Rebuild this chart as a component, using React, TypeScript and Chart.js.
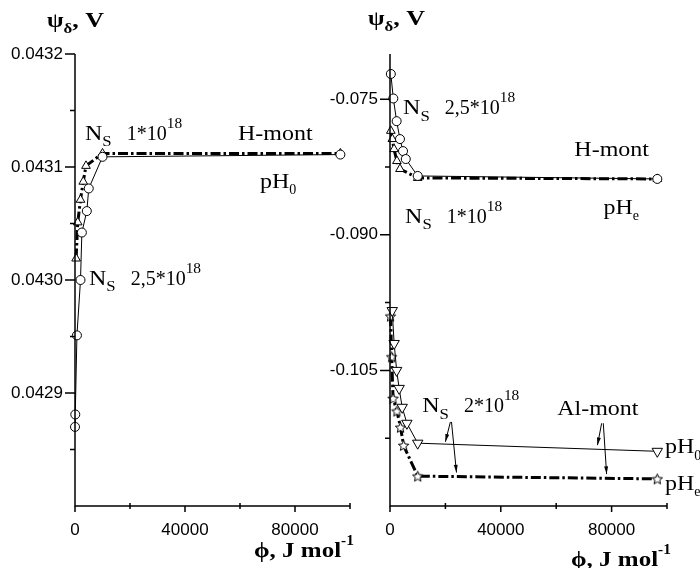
import React, { useEffect, useRef } from 'react';
import { Chart, registerables } from 'chart.js';
Chart.register(...registerables);

const SANS = "'Liberation Sans', Arial, sans-serif";
const SERIF = "'Liberation Serif', 'Times New Roman', serif";

// ---------- Left panel: H-mont, pH0 ----------
const leftCircX = [0, 100, 700, 2000, 2500, 4300, 5000, 10000, 96500];
const leftCircY = [0.04287, 0.042881, 0.042951, 0.043, 0.043042, 0.043061, 0.043081, 0.043109, 0.043111];
const leftTriX = [400, 1000, 2000, 3000, 4000, 10000, 96500];
const leftTriY = [0.043019, 0.043051, 0.043071, 0.043087, 0.043101, 0.043112, 0.043112];

// ---------- Right panel, top: H-mont, pHe ----------
const rCircX = [300, 1200, 2400, 3600, 4700, 5700, 10000, 96500];
const rCircY = [-0.07221, -0.07492, -0.07743, -0.07941, -0.08074, -0.08162, -0.08349, -0.08382];
const rTriX = [300, 840, 1450, 2500, 3600, 10000, 96500];
const rTriY = [-0.0785, -0.07941, -0.08052, -0.08184, -0.08272, -0.08371, -0.08382];

// ---------- Right panel, bottom: Al-mont ----------
const alPH0X = [800, 1500, 2400, 3300, 4400, 6100, 10000, 96500];
const alPH0Y = [-0.09838, -0.10202, -0.105, -0.10699, -0.10908, -0.11085, -0.11305, -0.11395];
const alPHeX = [200, 600, 1100, 2500, 3800, 4900, 10000, 96500];
const alPHeY = [-0.099, -0.1035, -0.1081, -0.1095, -0.1113, -0.1133, -0.1167, -0.117];

// ---------- Axes ----------
const xMajor = [0, 40000, 80000];
const xMinor = [20000, 60000, 100000];
const leftYMajor = [0.0429, 0.043, 0.0431, 0.0432];
const leftYMinor = [0.04285, 0.04295, 0.04305, 0.04315];
const rightYMajor = [-0.105, -0.09, -0.075];
const rightYMinor = [-0.1125, -0.0975, -0.0825];

type Seg = [string, 'n' | 'sub' | 'sup', number?];
type Label = { x: number; y: number; segs: Seg[] };
type Arrow = { x1: number; y1: number; x2: number; y2: number };

const ns = (mult: string): Seg[] => [['N', 'n', 1.2], ['S', 'sub', 1.2], ['   ' + mult, 'n', 1], ['18', 'sup', 1.1]];

const leftLabels: Label[] = [
  { x: 3640, y: 0.0431239, segs: ns('1*10') },
  { x: 59270, y: 0.0431239, segs: [['H-mont', 'n', 1.2]] },
  { x: 67270, y: 0.0430814, segs: [['pH', 'n', 1.2], ['0', 'sub', 1]] },
  { x: 5090, y: 0.0429956, segs: ns('2,5*10') },
];
const rightLabels: Label[] = [
  { x: 4730, y: -0.076656, segs: ns('2,5*10') },
  { x: 66540, y: -0.081288, segs: [['H-mont', 'n', 1.2]] },
  { x: 5450, y: -0.088678, segs: ns('1*10') },
  { x: 77080, y: -0.087685, segs: [['pH', 'n', 1.2], ['e', 'sub', 1]] },
  { x: 11640, y: -0.109633, segs: ns('2*10') },
  { x: 60360, y: -0.109964, segs: [['Al-mont', 'n', 1.2]] },
  { x: 99260, y: -0.114155, segs: [['pH', 'n', 1.2], ['0', 'sub', 1]] },
  { x: 99260, y: -0.118235, segs: [['pH', 'n', 1.2], ['e', 'sub', 1]] },
];
const rightArrows: Arrow[] = [
  { x1: 21800, y1: -0.1107, x2: 20000, y2: -0.1129 },
  { x1: 22200, y1: -0.1107, x2: 24000, y2: -0.1163 },
  { x1: 76400, y1: -0.11085, x2: 74900, y2: -0.11327 },
  { x1: 77000, y1: -0.11085, x2: 78200, y2: -0.11647 },
];

function drawRich(ctx: CanvasRenderingContext2D, x: number, y: number, segs: Seg[], size: number, bold = false) {
  let cx = x;
  ctx.fillStyle = '#000';
  ctx.textBaseline = 'alphabetic';
  ctx.textAlign = 'left';
  for (const [t, k, s0] of segs) {
    const s = s0 ?? 1;
    const fs = k === 'n' ? size : Math.round(size * (k === 'sup' ? 0.72 : 0.68));
    const dy = k === 'sub' ? size * 0.32 : k === 'sup' ? -size * 0.6 : 0;
    ctx.font = `${bold ? 'bold ' : ''}${fs}px ${SERIF}`;
    ctx.save();
    ctx.translate(cx, y + dy);
    ctx.scale(s, 1);
    ctx.fillText(t, 0, 0);
    ctx.restore();
    cx += ctx.measureText(t).width * s;
  }
}

const decoPlugin = {
  id: 'deco',
  afterDraw(chart: any, _args: any, opts: any) {
    const { ctx, chartArea: ca } = chart;
    const xs = chart.scales.x;
    const ys = chart.scales.y;
    ctx.save();
    ctx.strokeStyle = '#000';
    ctx.lineWidth = 1.5;
    ctx.beginPath();
    ctx.moveTo(ca.left, ca.top);
    ctx.lineTo(ca.left, ca.bottom);
    ctx.lineTo(ca.right, ca.bottom);
    ctx.stroke();
    ctx.beginPath();
    for (const v of opts.xMajor) { const p = xs.getPixelForValue(v); ctx.moveTo(p, ca.bottom); ctx.lineTo(p, ca.bottom + 6); }
    for (const v of opts.xMinor) { const p = xs.getPixelForValue(v); ctx.moveTo(p, ca.bottom - 3); ctx.lineTo(p, ca.bottom + 3); }
    for (const v of opts.yMajor) { const p = ys.getPixelForValue(v); ctx.moveTo(ca.left - 10, p); ctx.lineTo(ca.left, p); }
    for (const v of opts.yMinor) { const p = ys.getPixelForValue(v); ctx.moveTo(ca.left - 5, p); ctx.lineTo(ca.left, p); }
    ctx.stroke();

    for (const l of opts.labels as Label[]) {
      drawRich(ctx, xs.getPixelForValue(l.x), ys.getPixelForValue(l.y), l.segs, 20);
    }
    ctx.lineWidth = 1;
    for (const a of (opts.arrows || []) as Arrow[]) {
      const x1 = xs.getPixelForValue(a.x1), y1 = ys.getPixelForValue(a.y1);
      const x2 = xs.getPixelForValue(a.x2), y2 = ys.getPixelForValue(a.y2);
      const ang = Math.atan2(y2 - y1, x2 - x1);
      ctx.beginPath();
      ctx.moveTo(x1, y1);
      ctx.lineTo(x2, y2);
      ctx.stroke();
      ctx.beginPath();
      ctx.moveTo(x2, y2);
      ctx.lineTo(x2 - 8 * Math.cos(ang - 0.25), y2 - 8 * Math.sin(ang - 0.25));
      ctx.lineTo(x2 - 8 * Math.cos(ang + 0.25), y2 - 8 * Math.sin(ang + 0.25));
      ctx.closePath();
      ctx.fillStyle = '#000';
      ctx.fill();
    }
    // axis titles
    drawRich(ctx, ca.left + opts.yTitleDx, opts.yTitleY, [['ψ', 'n', 1.2], ['δ', 'sub', 1.2], [', V', 'n', 1.3]], 20, true);
    drawRich(ctx, ca.right + opts.xTitleDx, opts.xTitleY, [['ϕ, J mol', 'n', 1.25], ['-1', 'sup', 1.1]], 20, true);
    ctx.restore();
  },
};

function makeStar(r: number) {
  const c = document.createElement('canvas');
  const s = Math.ceil(r * 2 + 4);
  c.width = s;
  c.height = s;
  const g = c.getContext('2d')!;
  g.translate(s / 2, s / 2 + 0.5);
  g.beginPath();
  for (let i = 0; i < 10; i++) {
    const rad = i % 2 === 0 ? r : r * 0.45;
    const a = -Math.PI / 2 + (i * Math.PI) / 5;
    const px = rad * Math.cos(a), py = rad * Math.sin(a);
    if (i) g.lineTo(px, py); else g.moveTo(px, py);
  }
  g.closePath();
  g.fillStyle = '#fff';
  g.fill();
  g.strokeStyle = '#000';
  g.lineWidth = 1;
  g.stroke();
  return c;
}

const pts = (xs: number[], ys: number[]) => xs.map((x, i) => ({ x, y: ys[i] }));

const thinLine = (label: string, data: any, style: any, radius: number, rotation = 0) => ({
  label, data, showLine: true, borderColor: '#000', borderWidth: 1, tension: 0,
  pointStyle: style, pointRadius: radius, pointRotation: rotation,
  pointBackgroundColor: '#fff', pointBorderColor: '#000', pointBorderWidth: 1, clip: false,
});
const dashLine = (label: string, data: any, style: any, radius: number) => ({
  label, data, showLine: true, borderColor: '#000', borderWidth: 3, borderDash: [10, 3, 2.5, 3], tension: 0,
  pointStyle: style, pointRadius: radius,
  pointBackgroundColor: '#fff', pointBorderColor: '#000', pointBorderWidth: 1, clip: false,
});

function makeConfig(side: 'left' | 'right'): any {
  const isLeft = side === 'left';
  const datasets = isLeft
    ? [
        thinLine('Ns 2,5e18', pts(leftCircX, leftCircY), 'circle', 4.5),
        dashLine('Ns 1e18', pts(leftTriX, leftTriY), 'triangle', 5),
      ]
    : [
        thinLine('H Ns 2,5e18', pts(rCircX, rCircY), 'circle', 4.5),
        dashLine('H Ns 1e18', pts(rTriX, rTriY), 'triangle', 5),
        thinLine('Al pH0', pts(alPH0X, alPH0Y), 'triangle', 6, 180),
        dashLine('Al pHe', pts(alPHeX, alPHeY), makeStar(5.5), 5),
      ];
  const yMajor = isLeft ? leftYMajor : rightYMajor;
  return {
    type: 'scatter',
    data: { datasets },
    plugins: [decoPlugin],
    options: {
      animation: false,
      responsive: false,
      devicePixelRatio: 1,
      layout: { padding: { top: 54, right: isLeft ? 10 : 33, left: 0, bottom: 0 } },
      plugins: {
        legend: { display: false },
        tooltip: { enabled: false },
        deco: {
          xMajor, xMinor,
          yMajor, yMinor: isLeft ? leftYMinor : rightYMinor,
          labels: isLeft ? leftLabels : rightLabels,
          arrows: isLeft ? [] : rightArrows,
          yTitleDx: isLeft ? -28 : -22,
          yTitleY: isLeft ? 27 : 25,
          xTitleDx: isLeft ? -96 : -96,
          xTitleY: isLeft ? 557 : 566,
        },
      },
      scales: {
        x: {
          type: 'linear', min: 0, max: 100000,
          grid: { display: false, drawTicks: false },
          border: { display: false },
          afterBuildTicks: (s: any) => { s.ticks = xMajor.map((v) => ({ value: v })); },
          afterFit: (s: any) => { s.height = 62; },
          ticks: { autoSkip: false, maxRotation: 0, padding: 14, color: '#000', font: { family: SANS, size: 17 }, callback: (v: any) => String(v) },
        },
        y: {
          type: 'linear',
          min: isLeft ? 0.0428 : -0.12,
          max: isLeft ? 0.0432 : -0.07,
          grid: { display: false, drawTicks: false },
          border: { display: false },
          afterBuildTicks: (s: any) => { s.ticks = yMajor.map((v) => ({ value: v })); },
          afterFit: (s: any) => { s.width = isLeft ? 75 : 90; },
          ticks: { autoSkip: false, padding: 12, color: '#000', font: { family: SANS, size: 17 }, callback: (v: any) => Number(v).toFixed(isLeft ? 4 : 3) },
        },
      },
    },
  };
}

function Panel({ side, left, width }: { side: 'left' | 'right'; left: number; width: number }) {
  const ref = useRef<HTMLCanvasElement>(null);
  useEffect(() => {
    const chart = new Chart(ref.current!, makeConfig(side));
    return () => chart.destroy();
  }, [side]);
  return (
    <canvas ref={ref} width={width} height={568}
      style={{ position: 'absolute', left, top: 0, width, height: 568 }} />
  );
}

export default function App() {
  return (
    <div style={{ position: 'absolute', left: 0, top: 0, width: 700, height: 568, background: '#fff' }}>
      <Panel side="left" left={0} width={360} />
      <Panel side="right" left={300} width={400} />
    </div>
  );
}
